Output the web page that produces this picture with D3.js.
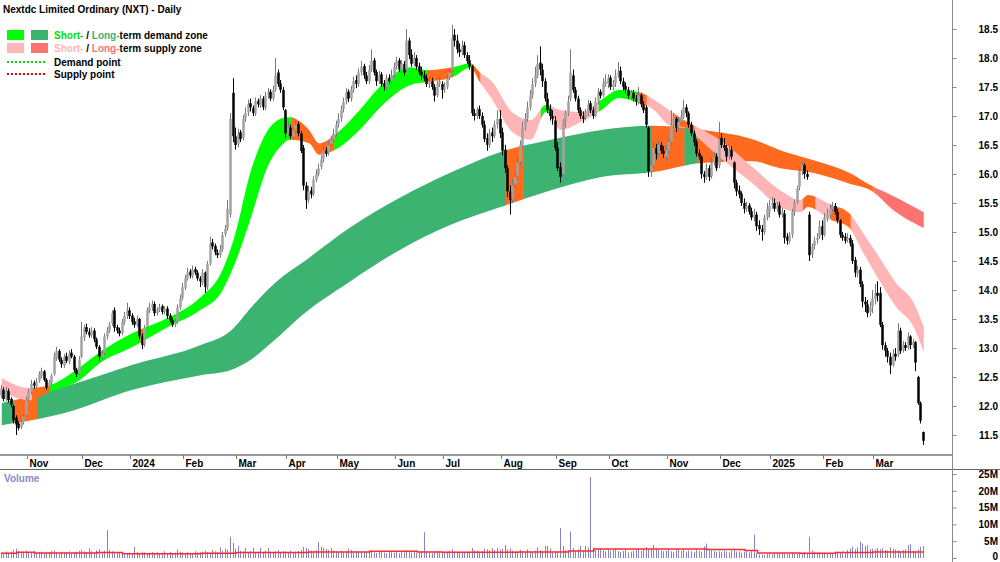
<!DOCTYPE html>
<html>
<head>
<meta charset="utf-8">
<script src="https://cdn.jsdelivr.net/npm/d3@7"></script>
<style>
  body { margin: 0; background: #fff; }
  svg { display: block; font-family: "Liberation Sans", Arial, sans-serif; }
</style>
</head>
<body>
<svg id="chart" width="1000" height="562"></svg>
<script>
const title = "Nextdc Limited Ordinary (NXT) - Daily";

// trading calendar (ASX)
const firstDay = "2023-10-18";
const lastDay = "2025-03-31";
const holidays = ["2023-12-25","2023-12-26","2024-01-01","2024-01-26","2024-03-29","2024-04-01",
  "2024-04-25","2024-06-10","2024-12-25","2024-12-26","2025-01-01","2025-01-27"];

// daily prices, one row per month
const opens = [
  12.18,12.28,12.12,12.26,12.12,12.00,11.80,11.70,11.64,11.72,
  11.85,12.12,12.24,12.40,12.34,12.44,12.52,12.60,12.45,12.32,12.40,12.55,12.82,12.95,12.80,12.70,12.86,12.76,12.92,12.85,12.62,12.56,
  12.85,13.18,13.36,13.28,13.22,13.30,13.15,13.02,12.84,12.92,13.20,13.30,13.42,13.65,13.36,13.30,13.26,13.45,13.56,
  13.65,13.56,13.46,13.40,13.50,13.20,13.06,13.36,13.64,13.70,13.76,13.60,13.66,13.72,13.62,13.68,13.56,13.48,13.40,13.46,13.70,
  13.86,14.04,14.20,14.32,14.24,14.36,14.30,14.20,14.12,14.30,14.05,14.46,14.82,14.76,14.64,14.60,14.70,14.96,15.06,15.30,17.40,
  16.65,16.52,16.72,16.62,16.96,17.06,17.22,17.14,17.04,17.26,17.18,17.30,17.14,17.36,17.42,17.30,17.46,17.75,17.56,17.45,
  17.10,16.70,16.80,16.64,16.76,16.86,16.70,16.45,15.80,15.55,15.72,15.66,15.90,16.00,16.12,16.26,16.40,16.36,16.52,16.60,
  16.70,16.86,16.96,17.12,17.26,17.42,17.30,17.46,17.62,17.55,17.76,17.86,17.70,17.60,17.80,17.96,17.76,17.60,17.72,17.56,17.50,17.66,17.60,
  17.70,17.86,17.96,17.80,17.90,17.80,18.30,18.06,17.90,18.00,17.86,17.76,17.70,17.66,17.55,17.60,17.50,17.36,17.55,
  17.55,17.46,17.50,17.66,17.80,18.40,18.30,18.15,18.10,18.22,18.05,17.96,17.85,17.05,17.00,17.12,17.00,16.85,16.62,16.50,16.72,16.66,16.85,
  16.95,16.72,16.42,16.10,15.70,15.56,15.82,15.96,16.22,16.50,16.82,16.96,17.15,17.36,17.56,17.70,17.92,17.80,17.60,17.30,17.12,17.00,
  16.92,16.45,16.12,16.00,16.90,17.05,17.30,17.70,17.45,17.30,17.10,17.00,16.96,17.05,17.22,17.10,17.00,17.26,17.42,17.36,17.55,
  17.55,17.66,17.50,17.56,17.70,17.78,17.60,17.52,17.45,17.34,17.40,17.30,17.24,17.36,17.20,17.15,16.80,16.05,16.15,16.45,16.36,16.50,16.40,
  16.30,16.40,16.56,16.86,16.95,16.80,16.90,17.00,17.15,17.05,16.85,16.70,16.56,16.36,16.30,16.00,15.95,16.10,15.96,16.20,16.30,
  16.15,16.62,16.50,16.45,16.30,16.42,16.20,15.85,15.72,15.66,15.50,15.40,15.46,15.36,15.25,15.30,15.12,15.05,15.00,15.25,
  15.35,15.46,15.50,15.40,15.46,15.30,15.32,14.92,14.85,14.95,15.35,15.52,15.78,16.05,16.15,16.00,15.30,14.62,14.76,14.86,14.92,
  15.10,14.95,15.22,15.30,15.40,15.45,15.35,15.20,14.95,14.92,14.86,14.90,14.80,14.52,14.28,14.35,14.10,13.80,13.75,13.62,
  13.72,13.84,13.95,13.95,13.40,13.05,12.95,12.85,12.70,12.90,12.88,13.30,12.96,13.05,13.00,13.20,13.05,13.10,12.50,12.05,11.55
];
const highs = [
  12.36,12.32,12.33,12.30,12.15,12.02,11.84,11.74,11.78,11.86,
  12.16,12.30,12.45,12.44,12.48,12.60,12.66,12.62,12.48,12.45,12.56,12.92,13.02,12.98,12.84,12.90,12.92,12.96,12.98,12.88,12.66,12.86,
  13.45,13.40,13.42,13.34,13.36,13.34,13.18,13.05,12.96,13.25,13.36,13.45,13.65,13.70,13.40,13.35,13.50,13.62,13.78,
  13.70,13.60,13.52,13.56,13.52,13.25,13.40,13.70,13.78,13.82,13.80,13.70,13.76,13.75,13.72,13.72,13.60,13.52,13.50,13.75,13.92,
  14.12,14.26,14.38,14.36,14.42,14.40,14.34,14.24,14.36,14.32,14.50,14.92,14.88,14.80,14.70,14.78,15.00,15.12,15.55,17.05,17.65,
  16.80,16.78,16.76,17.02,17.15,17.28,17.30,17.18,17.32,17.30,17.36,17.34,17.42,17.48,17.46,17.52,18.00,17.80,17.62,17.50,
  17.12,16.90,16.85,16.80,16.92,16.90,16.74,16.50,15.86,15.80,15.78,15.96,16.08,16.18,16.32,16.48,16.46,16.58,16.66,16.78,
  16.92,17.05,17.18,17.32,17.48,17.46,17.52,17.68,17.70,17.82,17.95,17.90,17.76,17.88,18.15,18.00,17.80,17.78,17.76,17.62,17.72,17.72,17.80,
  17.92,18.02,18.00,17.96,17.95,18.50,18.35,18.15,18.10,18.05,17.92,17.85,17.78,17.72,17.68,17.66,17.55,17.60,17.68,
  17.60,17.58,17.72,17.82,18.57,18.50,18.40,18.25,18.30,18.28,18.10,18.05,17.88,17.12,17.15,17.18,17.06,16.92,16.70,16.78,16.80,16.92,17.10,
  17.10,16.80,16.50,16.15,15.80,15.90,16.05,16.30,16.58,16.90,17.05,17.25,17.45,17.65,17.85,18.05,18.20,17.90,17.65,17.40,17.20,17.10,
  17.00,16.55,16.20,16.95,17.10,17.35,18.15,17.80,17.50,17.35,17.15,17.08,17.12,17.28,17.26,17.15,17.32,17.48,17.46,17.65,17.72,
  17.72,17.70,17.62,17.80,17.93,17.85,17.66,17.58,17.50,17.45,17.45,17.36,17.50,17.40,17.25,17.18,16.82,16.25,16.55,16.52,16.58,16.55,16.48,
  16.50,16.62,17.10,17.05,16.98,16.98,17.10,17.28,17.20,17.08,16.90,16.75,16.60,16.42,16.32,16.05,16.18,16.15,16.28,16.38,16.36,
  16.90,16.70,16.62,16.50,16.48,16.48,16.22,15.90,15.80,15.70,15.58,15.52,15.50,15.42,15.40,15.35,15.20,15.12,15.30,15.50,
  15.55,15.60,15.58,15.52,15.52,15.42,15.38,14.98,15.00,15.40,15.56,15.80,16.12,16.22,16.18,16.06,15.35,14.80,14.92,14.98,15.20,
  15.20,15.33,15.40,15.48,15.52,15.50,15.40,15.22,15.00,14.98,14.98,14.95,14.86,14.57,14.42,14.40,14.15,13.88,13.83,13.80,
  14.00,14.10,14.15,14.05,13.45,13.10,13.00,12.92,12.98,13.00,13.43,13.35,13.12,13.10,13.27,13.22,13.15,13.12,12.52,12.08,11.56
];
const lows = [
  12.14,12.08,12.08,12.06,11.98,11.70,11.50,11.58,11.60,11.68,
  11.82,12.08,12.20,12.30,12.30,12.40,12.48,12.42,12.28,12.28,12.36,12.52,12.78,12.76,12.66,12.66,12.74,12.72,12.82,12.58,12.50,12.52,
  12.82,13.12,13.24,13.18,13.18,13.10,12.98,12.78,12.80,12.88,13.15,13.26,13.38,13.28,13.25,13.20,13.22,13.40,13.50,
  13.50,13.40,13.35,13.36,13.15,12.98,13.02,13.32,13.60,13.64,13.55,13.56,13.62,13.58,13.58,13.50,13.44,13.36,13.36,13.42,13.66,
  13.82,14.00,14.16,14.20,14.20,14.26,14.16,14.05,14.08,13.95,14.00,14.42,14.70,14.60,14.55,14.56,14.66,14.92,15.02,15.25,16.55,
  16.42,16.46,16.55,16.58,16.90,17.00,17.08,17.00,17.00,17.15,17.14,17.10,17.10,17.30,17.26,17.26,17.42,17.50,17.40,17.10,
  16.62,16.66,16.60,16.60,16.70,16.65,16.36,15.72,15.40,15.50,15.58,15.62,15.86,15.96,16.08,16.20,16.30,16.32,16.46,16.55,
  16.64,16.80,16.90,17.06,17.20,17.24,17.25,17.40,17.48,17.50,17.70,17.64,17.55,17.55,17.76,17.70,17.52,17.55,17.50,17.44,17.45,17.55,17.55,
  17.65,17.80,17.76,17.74,17.70,17.76,17.98,17.85,17.86,17.80,17.70,17.62,17.60,17.50,17.48,17.45,17.25,17.32,17.50,
  17.30,17.40,17.46,17.62,17.75,18.20,18.08,18.02,18.05,18.00,17.90,17.80,17.00,16.92,16.95,16.95,16.80,16.55,16.40,16.45,16.55,16.62,16.78,
  16.62,16.32,16.02,15.60,15.30,15.50,15.75,15.90,16.15,16.45,16.75,16.90,17.10,17.30,17.50,17.65,17.70,17.50,17.25,17.05,16.92,16.85,
  16.40,16.05,15.85,15.98,16.80,17.00,17.25,17.40,17.25,17.05,16.95,16.88,16.92,17.00,17.05,16.95,16.98,17.20,17.30,17.32,17.50,
  17.48,17.45,17.44,17.50,17.66,17.55,17.44,17.40,17.30,17.28,17.25,17.18,17.20,17.15,17.05,16.80,15.95,15.95,16.10,16.25,16.30,16.35,16.28,
  16.22,16.35,16.50,16.80,16.72,16.75,16.86,16.95,16.98,16.80,16.65,16.48,16.30,16.25,15.92,15.85,15.90,15.88,15.92,16.15,16.05,
  16.10,16.45,16.40,16.22,16.25,16.25,15.75,15.62,15.58,15.45,15.32,15.35,15.30,15.20,15.18,15.02,14.95,14.85,14.95,15.20,
  15.25,15.40,15.35,15.35,15.25,15.25,14.80,14.78,14.80,14.90,15.28,15.48,15.72,15.98,15.92,15.90,14.50,14.55,14.70,14.80,14.88,
  14.86,14.92,15.18,15.25,15.35,15.30,15.15,14.90,14.85,14.80,14.82,14.75,14.45,14.22,14.22,14.05,13.70,13.62,13.53,13.55,
  13.60,13.75,13.80,13.36,12.97,12.85,12.75,12.55,12.68,12.78,12.84,12.90,12.92,12.95,12.97,12.98,13.00,12.60,12.02,11.70,11.33
];
const closes = [
  12.30,12.12,12.25,12.10,12.02,11.75,11.68,11.62,11.72,11.82,
  12.10,12.25,12.38,12.35,12.42,12.55,12.60,12.45,12.32,12.40,12.52,12.85,12.95,12.80,12.72,12.85,12.78,12.90,12.85,12.62,12.55,12.80,
  13.20,13.35,13.28,13.22,13.30,13.15,13.02,12.85,12.90,13.20,13.30,13.40,13.60,13.35,13.30,13.25,13.45,13.55,13.65,
  13.55,13.45,13.40,13.50,13.20,13.05,13.35,13.65,13.70,13.75,13.60,13.65,13.70,13.62,13.68,13.55,13.48,13.40,13.45,13.70,13.85,
  14.05,14.20,14.30,14.25,14.35,14.30,14.20,14.15,14.30,14.05,14.45,14.80,14.75,14.65,14.60,14.70,14.95,15.05,15.40,16.95,16.65,
  16.50,16.70,16.60,16.95,17.05,17.20,17.15,17.05,17.25,17.20,17.30,17.15,17.35,17.40,17.30,17.45,17.70,17.55,17.45,17.15,
  16.70,16.80,16.65,16.75,16.85,16.70,16.40,15.80,15.55,15.70,15.65,15.90,16.00,16.10,16.25,16.40,16.35,16.50,16.60,16.70,
  16.85,16.95,17.10,17.25,17.40,17.30,17.45,17.60,17.55,17.75,17.85,17.70,17.60,17.80,17.95,17.75,17.60,17.70,17.55,17.50,17.65,17.60,17.70,
  17.85,17.95,17.80,17.90,17.75,18.30,18.05,17.90,18.00,17.85,17.75,17.70,17.65,17.55,17.60,17.50,17.35,17.55,17.60,
  17.45,17.50,17.65,17.75,18.35,18.30,18.15,18.10,18.20,18.05,17.95,17.85,17.05,17.00,17.10,17.00,16.85,16.60,16.50,16.70,16.65,16.85,16.95,
  16.70,16.40,16.10,15.70,15.55,15.80,15.95,16.20,16.50,16.80,16.95,17.15,17.35,17.55,17.70,17.90,17.80,17.60,17.30,17.10,17.00,16.95,
  16.45,16.10,15.95,16.90,17.05,17.25,17.75,17.45,17.30,17.10,17.00,16.95,17.05,17.20,17.10,17.00,17.25,17.40,17.35,17.55,17.60,
  17.65,17.50,17.55,17.70,17.75,17.60,17.50,17.45,17.35,17.40,17.30,17.25,17.35,17.20,17.10,16.85,16.05,16.15,16.45,16.35,16.50,16.40,16.35,
  16.40,16.55,16.85,16.95,16.80,16.90,17.00,17.15,17.05,16.85,16.70,16.55,16.35,16.30,16.00,15.95,16.10,15.95,16.20,16.30,16.10,
  16.60,16.50,16.45,16.30,16.40,16.30,15.85,15.70,15.65,15.50,15.40,15.45,15.35,15.25,15.30,15.10,15.05,15.00,15.25,15.40,
  15.45,15.50,15.40,15.45,15.30,15.35,14.90,14.85,14.95,15.35,15.50,15.75,16.05,16.15,16.00,15.95,14.60,14.75,14.85,14.90,15.10,
  14.95,15.25,15.30,15.40,15.45,15.35,15.20,14.95,14.90,14.85,14.90,14.80,14.50,14.30,14.35,14.10,13.80,13.75,13.60,13.70,
  13.85,13.95,13.90,13.40,13.05,12.95,12.85,12.70,12.90,12.85,13.30,12.95,13.05,13.00,13.20,13.05,13.10,12.75,12.05,11.75,11.40
];
// daily volume, millions of shares
const volumes = [
  1.8,1.5,2.0,1.6,1.9,2.4,2.8,2.1,1.7,1.9,
  2.2,1.8,1.6,2.0,1.5,1.7,1.9,1.4,1.6,1.8,2.1,2.3,1.7,1.5,1.9,1.6,1.8,2.0,1.4,1.7,1.9,2.2,
  2.5,2.0,1.8,2.9,2.1,1.7,2.3,2.6,1.9,2.2,8.3,2.4,2.0,1.7,1.5,1.6,1.2,1.1,1.3,
  1.6,1.4,3.3,1.8,1.5,1.9,1.7,1.4,1.6,1.8,1.5,1.7,1.3,1.6,2.0,1.5,1.8,1.4,1.6,2.6,1.9,
  1.7,1.5,1.8,1.6,1.4,2.0,1.7,1.5,1.9,2.2,1.8,1.6,2.4,2.0,1.7,3.2,2.1,2.8,2.5,6.3,4.5,
  2.8,3.6,2.2,2.0,3.0,1.8,2.1,3.0,1.7,1.9,3.0,1.8,2.2,3.0,1.9,1.7,2.1,2.4,1.8,2.0,
  2.0,1.8,2.2,1.7,1.9,2.1,2.4,3.3,3.0,2.6,2.2,2.0,2.3,4.8,3.4,3.0,2.7,2.4,3.0,2.2,
  2.0,1.8,2.2,1.6,1.9,2.8,2.4,1.7,2.1,1.5,1.8,2.0,1.6,1.9,2.3,1.7,1.5,1.8,2.0,1.6,1.4,1.9,1.7,
  1.6,1.8,1.5,2.0,1.7,2.4,1.9,1.6,1.8,1.5,1.7,2.0,7.7,1.8,1.6,1.4,1.9,2.1,1.7,
  1.8,1.6,1.9,2.2,2.6,2.0,1.8,1.7,1.9,1.6,1.8,2.0,3.0,2.4,2.2,1.9,2.1,2.8,2.6,2.3,2.9,2.4,3.0,
  2.5,2.8,3.9,2.6,2.9,2.2,2.0,1.8,2.4,2.1,1.9,2.6,2.0,1.8,2.2,3.2,2.4,2.0,3.6,3.6,2.8,1.9,
  1.9,1.7,8.9,3.6,2.4,2.0,7.9,3.0,2.2,2.6,3.6,2.2,3.6,3.2,24.1,3.1,2.4,2.6,2.8,2.3,2.0,
  2.6,2.2,2.4,2.8,2.0,1.8,2.1,2.5,1.7,1.9,2.2,2.4,2.8,2.1,2.6,3.3,2.5,2.8,3.9,3.0,2.4,2.2,2.0,
  2.2,2.5,2.0,1.8,2.3,2.6,2.1,2.4,1.9,2.2,2.0,1.8,2.4,2.1,1.9,3.5,4.3,2.4,2.2,2.0,1.9,
  2.0,1.8,2.2,1.9,1.7,2.1,2.4,1.9,2.0,1.6,1.8,2.2,1.7,2.0,6.9,1.4,1.1,1.0,0.9,1.2,
  1.3,1.1,1.5,1.2,1.4,1.6,1.3,1.1,1.5,1.7,1.4,1.2,1.6,1.3,1.8,1.5,6.3,2.2,1.9,1.6,1.7,
  1.4,1.6,1.2,1.5,1.3,1.7,1.9,1.6,2.0,1.8,2.4,2.8,3.4,2.6,3.2,4.9,4.3,3.6,3.8,2.7,
  2.8,2.5,3.0,2.6,2.9,2.4,2.2,3.1,2.7,2.5,2.3,2.0,2.4,2.6,3.9,4.1,2.2,2.0,2.6,3.3,3.5
];
// average volume (millions), read at these dates
const volAvgDates = ["2023-10-18","2023-10-26","2023-11-06","2023-12-11","2023-12-27","2024-02-12","2024-03-01",
  "2024-04-15","2024-05-20","2024-06-17","2024-07-01","2024-08-12","2024-09-09","2024-09-23","2024-11-25",
  "2024-12-16","2024-12-23","2025-01-20","2025-02-10","2025-03-03","2025-03-31"];
const volAvg = [1.4,1.7,1.5,1.6,1.3,1.4,1.6,1.8,2.0,1.8,1.7,1.8,2.1,2.7,2.5,2.2,1.5,1.4,1.6,1.8,1.8];

// short-term zone edges
const shortDates = ["2023-10-18","2023-11-02","2023-11-14","2023-11-30","2023-12-12","2024-01-03","2024-01-23",
  "2024-02-12","2024-02-22","2024-02-29","2024-03-11","2024-03-19","2024-03-28","2024-04-03","2024-04-15",
  "2024-04-19","2024-04-30","2024-05-14","2024-05-24","2024-06-12","2024-06-21","2024-07-05","2024-07-16",
  "2024-07-22","2024-07-26","2024-08-08","2024-08-19","2024-08-27","2024-09-04","2024-09-16","2024-09-26",
  "2024-10-07","2024-10-17","2024-10-25","2024-11-04","2024-11-13","2024-11-19","2024-12-02","2024-12-19",
  "2025-01-08","2025-01-20","2025-01-23","2025-02-06","2025-02-17","2025-02-25","2025-03-06","2025-03-14",
  "2025-03-25","2025-03-31"];
const shortTop = [12.48,12.31,12.36,12.67,12.93,13.26,13.52,13.88,14.29,14.86,16.07,16.71,16.97,16.98,16.76,
  16.53,16.67,17.10,17.50,17.84,17.79,17.84,17.91,17.74,17.62,17.05,16.93,17.19,17.10,17.07,17.28,
  17.45,17.41,17.28,17.10,16.90,16.81,16.59,16.12,15.72,15.55,15.64,15.47,15.34,14.98,14.52,14.12,13.78,13.36];
const shortBottom = [12.24,12.10,12.24,12.45,12.74,13.02,13.36,13.66,13.95,14.40,15.26,16.07,16.53,16.59,16.53,
  16.33,16.41,16.76,17.14,17.53,17.59,17.67,17.83,17.57,17.33,16.71,16.59,17.07,16.76,16.90,17.10,
  17.31,17.22,17.10,16.84,16.79,16.64,16.29,15.84,15.43,15.34,15.43,15.21,15.09,14.64,14.12,13.71,13.36,12.93];

// long-term zone edges
const longDates = ["2023-10-18","2023-11-22","2024-01-03","2024-02-12","2024-02-28","2024-03-11","2024-03-20",
  "2024-03-28","2024-04-09","2024-05-08","2024-06-05","2024-07-04","2024-08-01","2024-08-29","2024-09-26",
  "2024-10-24","2024-11-21","2024-12-19","2025-01-08","2025-01-28","2025-02-17","2025-03-03","2025-03-12","2025-03-31"];
const longTop = [12.05,12.33,12.71,13.05,13.30,13.70,14.02,14.25,14.43,15.07,15.59,16.02,16.38,16.59,16.76,
  16.83,16.76,16.60,16.41,16.24,16.03,15.78,15.64,15.34];
const longBottom = [11.67,11.88,12.28,12.53,12.62,12.80,13.05,13.28,13.52,14.14,14.69,15.12,15.43,15.72,15.95,
  16.03,16.19,16.22,16.10,16.02,15.84,15.69,15.41,15.07];

// zone states: [from, to, state]
const shortZones = [
  ["2023-10-18","2023-11-03","supply"],["2023-11-03","2023-11-14","neutral"],["2023-11-14","2024-01-08","demand"],
  ["2024-01-08","2024-01-10","neutral"],["2024-01-10","2024-04-04","demand"],["2024-04-04","2024-04-30","neutral"],
  ["2024-04-30","2024-06-21","demand"],["2024-06-21","2024-07-05","neutral"],["2024-07-05","2024-07-17","demand"],
  ["2024-07-17","2024-07-22","neutral"],["2024-07-22","2024-08-23","supply"],["2024-08-23","2024-08-29","demand"],
  ["2024-08-29","2024-09-25","supply"],["2024-09-25","2024-10-16","demand"],["2024-10-16","2024-10-22","neutral"],
  ["2024-10-22","2024-11-06","supply"],["2024-11-06","2024-11-18","neutral"],["2024-11-18","2025-01-21","supply"],
  ["2025-01-21","2025-01-29","neutral"],["2025-01-29","2025-02-06","supply"],["2025-02-06","2025-02-18","neutral"],
  ["2025-02-18","2025-03-31","supply"]
];
const longZones = [
  ["2023-10-18","2023-10-25","demand"],["2023-10-25","2023-11-07","neutral"],["2023-11-07","2024-08-05","demand"],
  ["2024-08-05","2024-08-14","neutral"],["2024-08-14","2024-10-24","demand"],["2024-10-24","2024-11-12","neutral"],
  ["2024-11-12","2024-11-19","demand"],["2024-11-19","2025-03-03","neutral"],["2025-03-03","2025-03-31","supply"]
];

const priceTicks = [11.5,12.0,12.5,13.0,13.5,14.0,14.5,15.0,15.5,16.0,16.5,17.0,17.5,18.0,18.5];
const volumeTicks = [0,5,10,15,20,25];

const shortColors = {demand:"#00ff00", supply:"#ffb5b5", neutral:"#ff6a1e"};
const longColors = {demand:"#3cb371", supply:"#ff7272", neutral:"#ff6a1e"};

// ---------------------------------------------------------------
const parse = d3.timeParse("%Y-%m-%d");
const fmt = d3.timeFormat("%Y-%m-%d");
const hol = new Set(holidays);
const days = d3.timeDay.range(parse(firstDay), d3.timeDay.offset(parse(lastDay), 1))
  .filter(d => d.getDay() > 0 && d.getDay() < 6 && !hol.has(fmt(d)));
const keys = days.map(fmt);
if (keys.length !== closes.length || opens.length !== closes.length || highs.length !== closes.length
    || lows.length !== closes.length || volumes.length !== closes.length) {
  throw new Error("length mismatch " + [keys.length, opens.length, highs.length, lows.length, closes.length, volumes.length]);
}

const svg = d3.select("#chart");
const defs = svg.append("defs");
const axisX = 952.5;

const x = d3.scaleBand().domain(keys).range([0.5, 925]);
const xc = k => x(k) + x.bandwidth() / 2;
const y = d3.scaleLinear().domain([11.5, 18.5]).range([435, 29]);
const yv = d3.scaleLinear().domain([0, 25]).range([558, 474]);

defs.append("clipPath").attr("id", "pricePanel").append("rect")
  .attr("x", 0).attr("y", 0).attr("width", axisX).attr("height", 454);

const plot = svg.append("g").attr("clip-path", "url(#pricePanel)");

function drawZone(dates, top, bottom, zones, colors, id) {
  const pts = dates.map((d, i) => ({x: xc(d), t: top[i], b: bottom[i]}));
  const area = d3.area()
    .x(p => p.x).y0(p => y(p.b)).y1(p => y(p.t))
    .curve(d3.curveMonotoneX);
  const g = plot.append("g");
  zones.forEach(([from, to, state], j) => {
    const x0 = j === 0 ? 0 : xc(from);
    const x1 = j === zones.length - 1 ? axisX : xc(to) + 0.4;
    defs.append("clipPath").attr("id", id + j).append("rect")
      .attr("x", x0).attr("y", 0).attr("width", x1 - x0).attr("height", 460);
    g.append("path").datum(pts)
      .attr("d", area)
      .attr("fill", colors[state])
      .attr("clip-path", `url(#${id + j})`);
  });
}
drawZone(longDates, longTop, longBottom, longZones, longColors, "lz");
drawZone(shortDates, shortTop, shortBottom, shortZones, shortColors, "sz");

// candles
const candles = keys.map((k, i) => ({k, o: opens[i], h: highs[i], l: lows[i], c: closes[i]}));
const cg = plot.append("g");
cg.selectAll("line").data(candles).join("line")
  .attr("x1", d => Math.round(xc(d.k)) - 0.5).attr("x2", d => Math.round(xc(d.k)) - 0.5)
  .attr("y1", d => y(d.h)).attr("y2", d => y(d.l))
  .attr("stroke", d => d.c >= d.o ? "#7a7a7a" : "#000")
  .attr("stroke-width", 1);
cg.selectAll("rect").data(candles).join("rect")
  .attr("x", d => Math.round(xc(d.k)) - 1.75)
  .attr("width", 2.5)
  .attr("y", d => y(Math.max(d.o, d.c)))
  .attr("height", d => Math.max(1, Math.abs(y(d.o) - y(d.c))))
  .attr("fill", d => d.c >= d.o ? "#a2a2a2" : "#000");

// volume
const vg = svg.append("g");
vg.selectAll("rect").data(keys).join("rect")
  .attr("x", k => Math.round(xc(k)) - 1)
  .attr("width", 1)
  .attr("y", (k, i) => yv(volumes[i]))
  .attr("height", (k, i) => yv(0) - yv(volumes[i]))
  .attr("fill", "#8484cc");
vg.append("path")
  .datum(volAvgDates.map((d, i) => [xc(d), yv(volAvg[i])]))
  .attr("d", d3.line().curve(d3.curveStepAfter))
  .attr("fill", "none").attr("stroke", "#ff2a2a").attr("stroke-width", 1.5);
svg.append("text").attr("x", 4).attr("y", 482)
  .attr("font-size", 10).attr("font-weight", "bold").attr("fill", "#8a8acb").text("Volume");

// axes frame
svg.append("line").attr("x1", 0).attr("x2", axisX).attr("y1", 455).attr("y2", 455)
  .attr("stroke", "#9a9a9a").attr("stroke-width", 2);
svg.append("line").attr("x1", 0).attr("x2", 1000).attr("y1", 469.5).attr("y2", 469.5)
  .attr("stroke", "#666").attr("stroke-width", 1);
svg.append("line").attr("x1", axisX).attr("x2", axisX).attr("y1", 0).attr("y2", 562)
  .attr("stroke", "#888").attr("stroke-width", 1);

const yAxis = svg.append("g").attr("transform", `translate(${axisX},0)`)
  .call(d3.axisRight(y).tickValues(priceTicks).tickFormat(d3.format(".1f")).tickSize(4).tickPadding(25));
const vAxis = svg.append("g").attr("transform", `translate(${axisX},0)`)
  .call(d3.axisRight(yv).tickValues(volumeTicks).tickFormat(v => v === 0 ? "0" : v + "M").tickSize(4).tickPadding(25));
[yAxis, vAxis].forEach(a => {
  a.select(".domain").remove();
  a.selectAll(".tick line").attr("stroke", "#888");
  a.selectAll(".tick text")
    .attr("text-anchor", "end").attr("x", 998 - axisX)
    .attr("font-size", 10).attr("font-weight", "bold").attr("fill", "#000")
    .attr("font-family", "'Liberation Sans', Arial, sans-serif");
});
// keep the bottom label inside the picture
vAxis.selectAll(".tick text").filter(v => v === 0).attr("y", -2);

// month ticks
const monthStarts = keys.filter((k, i) => i > 0 && days[i].getMonth() !== days[i - 1].getMonth());
const mg = svg.append("g").selectAll("g").data(monthStarts).join("g")
  .attr("transform", k => `translate(${Math.round(xc(k)) + 0.5},0)`);
mg.append("line").attr("y1", 455).attr("y2", 459).attr("stroke", "#777");
mg.append("text").attr("x", 2).attr("y", 467)
  .attr("font-size", 10).attr("font-weight", "bold")
  .text(k => { const d = parse(k); return d.getMonth() === 0 ? d.getFullYear() : d3.timeFormat("%b")(d); });

// title and legend
svg.append("text").attr("x", 3).attr("y", 13)
  .attr("font-size", 10).attr("font-weight", "bold").text(title);

const lg = svg.append("g").attr("font-size", 10).attr("font-weight", "bold");
lg.append("rect").attr("x", 7).attr("y", 30).attr("width", 17).attr("height", 10).attr("fill", shortColors.demand);
lg.append("rect").attr("x", 31).attr("y", 30).attr("width", 17).attr("height", 10).attr("fill", longColors.demand);
lg.append("rect").attr("x", 7).attr("y", 43).attr("width", 17).attr("height", 10).attr("fill", shortColors.supply);
lg.append("rect").attr("x", 31).attr("y", 43).attr("width", 17).attr("height", 10).attr("fill", longColors.supply);
const t1 = lg.append("text").attr("x", 54).attr("y", 39);
t1.append("tspan").attr("fill", "#00e000").text("Short-");
t1.append("tspan").text(" / ");
t1.append("tspan").attr("fill", longColors.demand).text("Long-");
t1.append("tspan").text("term demand zone");
const t2 = lg.append("text").attr("x", 54).attr("y", 52);
t2.append("tspan").attr("fill", shortColors.supply).text("Short-");
t2.append("tspan").text(" / ");
t2.append("tspan").attr("fill", longColors.supply).text("Long-");
t2.append("tspan").text("term supply zone");
lg.append("line").attr("x1", 7).attr("x2", 46).attr("y1", 62).attr("y2", 62)
  .attr("stroke", "#00dd00").attr("stroke-width", 2).attr("stroke-dasharray", "2,2");
lg.append("text").attr("x", 54).attr("y", 66).text("Demand point");
lg.append("line").attr("x1", 7).attr("x2", 46).attr("y1", 74).attr("y2", 74)
  .attr("stroke", "#ee0000").attr("stroke-width", 2).attr("stroke-dasharray", "2,2");
lg.append("text").attr("x", 54).attr("y", 78).text("Supply point");
</script>
</body>
</html>
